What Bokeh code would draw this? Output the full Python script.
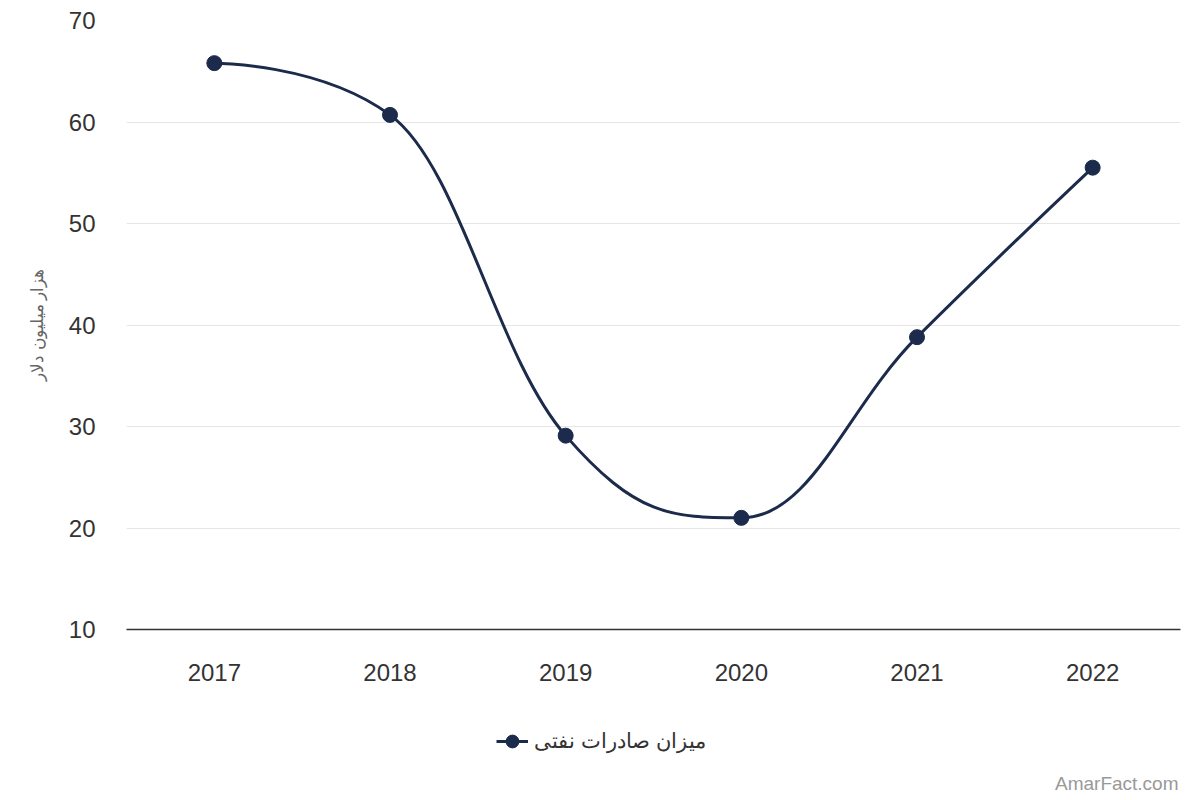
from bokeh.plotting import figure
from bokeh.layouts import column
from bokeh.models import ColumnDataSource, FixedTicker, Legend, LegendItem, Label
from bokeh.embed import file_html
from bokeh.resources import INLINE

# data
years = [2017, 2018, 2019, 2020, 2021, 2022]
exports = [65.8, 60.7, 29.1, 21.0, 38.8, 55.5]
y_ticks = [10, 20, 30, 40, 50, 60, 70]
series_name = "میزان صادرات نفتی"
y_title = "هزار میلیون دلار"
credit_text = "AmarFact.com"

NAVY = "#1c2b4c"
FONT = "Liberation Sans"


def spline_segments(xs, ys, smoothing=1.5):
    # same smoothing rule as a Highcharts spline
    denom = smoothing + 1
    n = len(xs)
    left = [(xs[i], ys[i]) for i in range(n)]
    right = [(xs[i], ys[i]) for i in range(n)]
    for i in range(1, n - 1):
        x, y = xs[i], ys[i]
        lx, ly = xs[i - 1], ys[i - 1]
        nx, ny = xs[i + 1], ys[i + 1]
        lcx = (smoothing * x + lx) / denom
        lcy = (smoothing * y + ly) / denom
        rcx = (smoothing * x + nx) / denom
        rcy = (smoothing * y + ny) / denom
        if rcx != lcx:
            corr = ((rcy - lcy) * (rcx - x)) / (rcx - lcx) + y - rcy
            lcy += corr
            rcy += corr
        if lcy > ly and lcy > y:
            lcy = max(ly, y)
            rcy = 2 * y - lcy
        elif lcy < ly and lcy < y:
            lcy = min(ly, y)
            rcy = 2 * y - lcy
        if rcy > ny and rcy > y:
            rcy = max(ny, y)
            lcy = 2 * y - rcy
        elif rcy < ny and rcy < y:
            rcy = min(ny, y)
            lcy = 2 * y - rcy
        left[i] = (lcx, lcy)
        right[i] = (rcx, rcy)
    seg = dict(x0=[], y0=[], x1=[], y1=[], cx0=[], cy0=[], cx1=[], cy1=[])
    for i in range(1, n):
        seg["x0"].append(xs[i - 1])
        seg["y0"].append(ys[i - 1])
        seg["x1"].append(xs[i])
        seg["y1"].append(ys[i])
        seg["cx0"].append(right[i - 1][0])
        seg["cy0"].append(right[i - 1][1])
        seg["cx1"].append(left[i][0])
        seg["cy1"].append(left[i][1])
    return seg


p = figure(width=1200, height=700, output_backend="svg", toolbar_location=None,
           x_range=(years[0] - 0.5, years[-1] + 0.5), y_range=(y_ticks[0], y_ticks[-1]),
           min_border_left=126, min_border_right=20, min_border_top=20, min_border_bottom=71)
p.outline_line_color = None
p.background_fill_color = "white"
p.border_fill_color = "white"

p.bezier(source=ColumnDataSource(spline_segments(years, exports)),
         x0="x0", y0="y0", x1="x1", y1="y1", cx0="cx0", cy0="cy0", cx1="cx1", cy1="cy1",
         line_color=NAVY, line_width=3)
p.scatter(years, exports, size=15, fill_color=NAVY, line_color=NAVY)

# axes
p.xgrid.grid_line_color = None
p.ygrid.grid_line_color = "#e6e6e6"
p.ygrid.ticker = FixedTicker(ticks=y_ticks)

p.xaxis.ticker = FixedTicker(ticks=years)
p.xaxis.axis_line_color = "#333333"
p.xaxis.axis_line_width = 1.5
p.xaxis.major_tick_line_color = None
p.xaxis.minor_tick_line_color = None
p.xaxis.major_label_standoff = 28
p.xaxis.major_label_text_font = FONT
p.xaxis.major_label_text_font_size = "24px"
p.xaxis.major_label_text_color = "#333333"

p.yaxis.ticker = FixedTicker(ticks=y_ticks)
p.yaxis.axis_line_color = None
p.yaxis.major_tick_line_color = None
p.yaxis.minor_tick_line_color = None
p.yaxis.major_label_standoff = 25
p.yaxis.major_label_text_font = FONT
p.yaxis.major_label_text_font_size = "24px"
p.yaxis.major_label_text_color = "#333333"
p.yaxis.axis_label = y_title
p.yaxis.axis_label_text_font = FONT
p.yaxis.axis_label_text_font_size = "17px"
p.yaxis.axis_label_text_font_style = "normal"
p.yaxis.axis_label_text_color = "#666666"
p.yaxis.axis_label_standoff = 19

# strip under the chart: legend and credit
# (the column lines its frame up with the chart's frame, page x 126..1180)
foot = figure(width=1200, height=100, output_backend="svg", toolbar_location=None,
              x_range=(126, 1180), y_range=(0, 100), x_axis_type=None, y_axis_type=None,
              min_border=0)
foot.outline_line_color = None
foot.grid.grid_line_color = None
key_line = foot.line([-50, -40], [-50, -40], line_color=NAVY, line_width=3)
key_dot = foot.scatter([-50], [-50], size=15, fill_color=NAVY, line_color=NAVY)

legend = Legend(items=[LegendItem(label=series_name, renderers=[key_line, key_dot])],
                location=(370, 40), orientation="horizontal",
                padding=0, margin=0, border_line_color=None, background_fill_alpha=0,
                glyph_width=32, glyph_height=38, label_height=20, label_standoff=6,
                label_text_font=FONT, label_text_font_size="21px", label_text_color="#333333")
foot.add_layout(legend)

foot.add_layout(Label(x=1178, y=17, text=credit_text, text_align="right",
                      text_baseline="middle", text_font=FONT,
                      text_font_size="19px", text_color="#999999"))

open("out.html", "w").write(file_html(column(p, foot), INLINE))
